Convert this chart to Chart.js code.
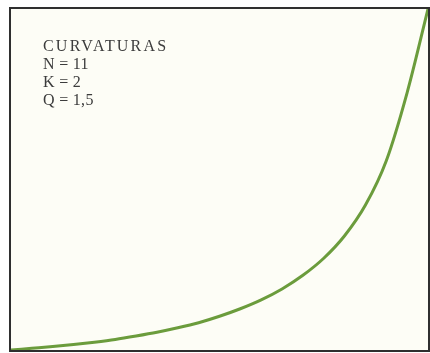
<!DOCTYPE html>
<html>
<head>
<meta charset="utf-8">
<script src="https://cdn.jsdelivr.net/npm/chart.js@4/dist/chart.umd.min.js"></script>
<style>
  html, body { margin: 0; padding: 0; background: #ffffff; }
  #wrap { width: 430px; height: 353px; }
</style>
</head>
<body>
<div id="wrap"><canvas id="curva"></canvas></div>
<script>
// curva de crescimento (percentual do eixo)
const xs = [0, 5, 10, 15, 20, 25, 30, 35, 40, 45, 50, 55, 60, 65, 70, 75, 80, 85, 90, 95, 100];
const ys = [0, 0.5, 1.0, 1.6, 2.3, 3.1, 4.1, 5.2, 6.5, 8.0, 9.9, 12.1, 14.7, 17.9, 21.9, 26.9, 33.5, 42.5, 55.5, 75.5, 100];

const legenda = ["CURVATURAS", "N = 11", "K = 2", "Q = 1,5"];

// moldura + fundo da área do gráfico
const moldura = {
  id: "moldura",
  beforeDraw(chart) {
    const { ctx, chartArea: a } = chart;
    ctx.save();
    ctx.fillStyle = "#fdfdf6";
    ctx.fillRect(a.left, a.top, a.width, a.height);
    ctx.restore();
  },
  afterDraw(chart) {
    const { ctx, chartArea: a } = chart;
    ctx.save();
    ctx.strokeStyle = "#2f2f2f";
    ctx.lineWidth = 2;
    ctx.strokeRect(a.left - 1, a.top - 1, a.width + 2, a.height + 2);

    // texto no canto superior esquerdo
    ctx.fillStyle = "#3c3c3c";
    ctx.textBaseline = "alphabetic";
    ctx.font = "16px 'Liberation Serif', serif";
    legenda.forEach((t, i) => {
      ctx.letterSpacing = i === 0 ? "2.2px" : "0.3px";
      ctx.fillText(t, 43, 51 + i * 18);
    });
    ctx.restore();
  },
};

new Chart(document.getElementById("curva"), {
  type: "line",
  data: {
    datasets: [
      {
        data: xs.map((x, i) => ({ x: x, y: ys[i] })),
        borderColor: "#6b9c3c",
        borderWidth: 3,
        pointRadius: 0,
        cubicInterpolationMode: "monotone",
        fill: false,
      },
    ],
  },
  options: {
    responsive: true,
    maintainAspectRatio: false,
    animation: false,
    layout: { padding: { left: 11, top: 9, right: 2, bottom: 3 } },
    plugins: { legend: { display: false }, tooltip: { enabled: false } },
    scales: {
      x: { type: "linear", min: 0, max: 100, display: false },
      y: { min: 0, max: 100, display: false },
    },
  },
  plugins: [moldura],
});
</script>
</body>
</html>
